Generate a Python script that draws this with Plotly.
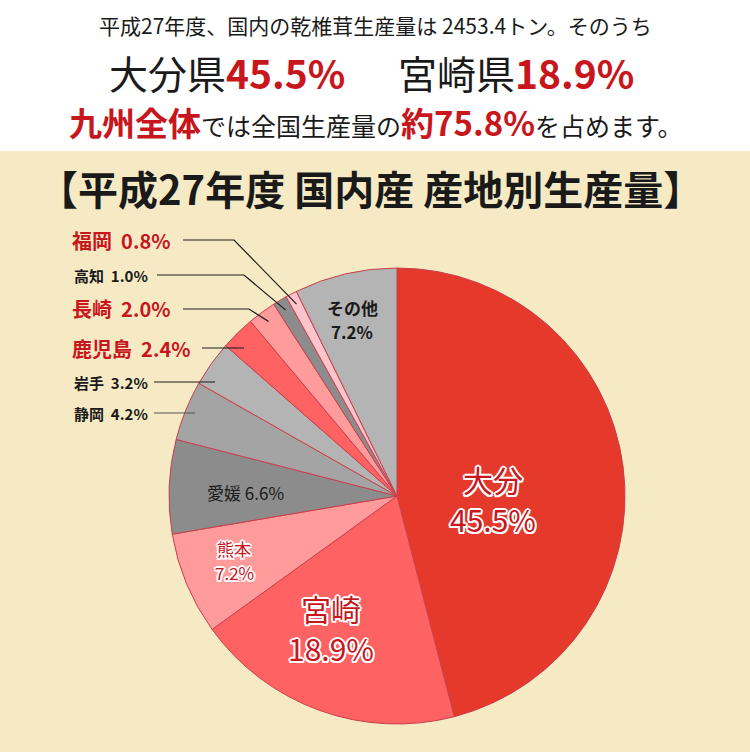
import math
import plotly.graph_objects as go

# ---- data ----
prefectures = ["大分", "宮崎", "熊本", "愛媛", "静岡", "岩手", "鹿児島", "長崎", "高知", "福岡", "その他"]
shares = [45.5, 18.9, 7.2, 6.6, 4.2, 3.2, 2.4, 2.0, 1.0, 0.8, 7.2]
slice_colors = ["#e5392b", "#ff6262", "#ff9b9b", "#8c8c8c", "#a4a4a4", "#b4b4b4",
                "#ff6262", "#ff9b9b", "#8c8c8c", "#ffc3cb", "#b4b4b4"]

total_tons = "2453.4"
kyushu_share = "75.8"

W, H = 750, 752
RED = "#c8161d"
FONT = "Noto Sans CJK JP"
OUTLINE = ("-1.5px -1.5px 0 #fff, 1.5px -1.5px 0 #fff, -1.5px 1.5px 0 #fff, 1.5px 1.5px 0 #fff, "
           "0 -2px 0 #fff, 0 2px 0 #fff, -2px 0 0 #fff, 2px 0 0 #fff")

# pie geometry (pixels)
CX, CY, R = 397, 496, 228


def px(x, y):
    return x / W, 1 - y / H


fig = go.Figure()

fig.add_trace(go.Pie(
    labels=prefectures,
    values=shares,
    sort=False,
    direction="clockwise",
    rotation=0,
    marker=dict(colors=slice_colors, line=dict(color="#c9404c", width=1)),
    textinfo="none",
    hoverinfo="label+percent",
    showlegend=False,
    domain=dict(x=[(CX - R) / W, (CX + R) / W], y=[(H - CY - R) / H, (H - CY + R) / H]),
))

annotations = []
shapes = []

# beige panel behind chart
shapes.append(dict(type="rect", xref="paper", yref="paper", x0=0, x1=1, y0=0,
                   y1=1 - 151 / H, fillcolor="#f6eac4", line=dict(width=0), layer="below"))


def add_text(x, y, text, size, color="#1a1a1a", bold=False, shadow=None, xanchor="center"):
    ax, ay = px(x, y)
    f = dict(family=FONT, size=size, color=color)
    if bold:
        f["weight"] = "bold"
    if shadow:
        f["shadow"] = shadow
    annotations.append(dict(x=ax, y=ay, xref="paper", yref="paper", text=text, showarrow=False,
                            font=f, xanchor=xanchor, yanchor="middle"))


# header
add_text(375, 25, f"平成27年度、国内の乾椎茸生産量は {total_tons}トン。そのうち", 21)
add_text(227, 72, f"大分県<span style='color:{RED}'><b>{shares[0]}%</b></span>", 39)
add_text(516, 72, f"宮崎県<span style='color:{RED}'><b>{shares[1]}%</b></span>", 39)
add_text(375, 122,
         f"<span style='color:{RED}; font-size:33px'><b>九州全体</b></span>では全国生産量の"
         f"<span style='color:{RED}; font-size:33px'><b>約{kyushu_share}%</b></span>を占めます。", 25)

# chart title
add_text(370, 188, "【平成27年度 国内産 産地別生産量】", 40, bold=True)

# inside labels (name line, value line)
idx = {p: i for i, p in enumerate(prefectures)}
add_text(493, 479, prefectures[0], 30, RED, shadow=OUTLINE)
add_text(493, 519, f"{shares[0]}%", 30, RED, shadow=OUTLINE)
add_text(331, 608, prefectures[1], 30, RED, shadow=OUTLINE)
add_text(331, 648, f"{shares[1]}%", 30, RED, shadow=OUTLINE)
add_text(234, 548, prefectures[2], 17, RED, shadow=OUTLINE)
add_text(234, 572, f"{shares[2]}%", 17, RED, shadow=OUTLINE)
add_text(245, 492, f"{prefectures[3]} {shares[3]}%", 17)
add_text(352, 308, prefectures[10], 17, bold=True)
add_text(352, 332, f"{shares[10]}%", 17, bold=True)

# outside labels with leader lines:
# (name, label y, text left x, line start x, bend x, bent, size, color)
outside = [
    ("福岡", 240, 70, 183, 234, True, 20, RED),
    ("高知", 275, 72, 157, 244, True, 15, "#1a1a1a"),
    ("長崎", 309, 70, 183, 249, True, 20, RED),
    ("鹿児島", 348, 70, 202, 244, False, 20, RED),
    ("岩手", 382, 72, 154, 215, False, 15, "#1a1a1a"),
    ("静岡", 413, 72, 154, 195, False, 15, "#1a1a1a"),
]

tot = sum(shares)
cum = [sum(shares[:i]) for i in range(len(shares))]

for name, ly, tx, lx0, bx, bent, size, col in outside:
    i = idx[name]
    add_text(tx, ly, f"<b>{name}  {shares[i]}%</b>", size, col, xanchor="left")
    lc = "#555555" if name == "静岡" else "#1a1a1a"
    x0, y0 = px(lx0, ly)
    x1, y1 = px(bx, ly)
    path = f"M {x0} {y0} L {x1} {y1}"
    if bent:
        theta = 2 * math.pi * (cum[i] + shares[i] / 2) / tot
        ex = CX + 0.95 * R * math.sin(theta)
        ey = CY - 0.95 * R * math.cos(theta)
        x2, y2 = px(ex, ey)
        path += f" L {x2} {y2}"
    shapes.append(dict(type="path", xref="paper", yref="paper", path=path,
                       line=dict(color=lc, width=1.2)))

fig.update_layout(
    width=W, height=H,
    margin=dict(l=0, r=0, t=0, b=0),
    paper_bgcolor="#ffffff",
    plot_bgcolor="#ffffff",
    font=dict(family=FONT, color="#1a1a1a"),
    annotations=annotations,
    shapes=shapes,
)

fig.write_html("out.html", config={"displayModeBar": False},
               post_script="document.body.style.margin='0';")
